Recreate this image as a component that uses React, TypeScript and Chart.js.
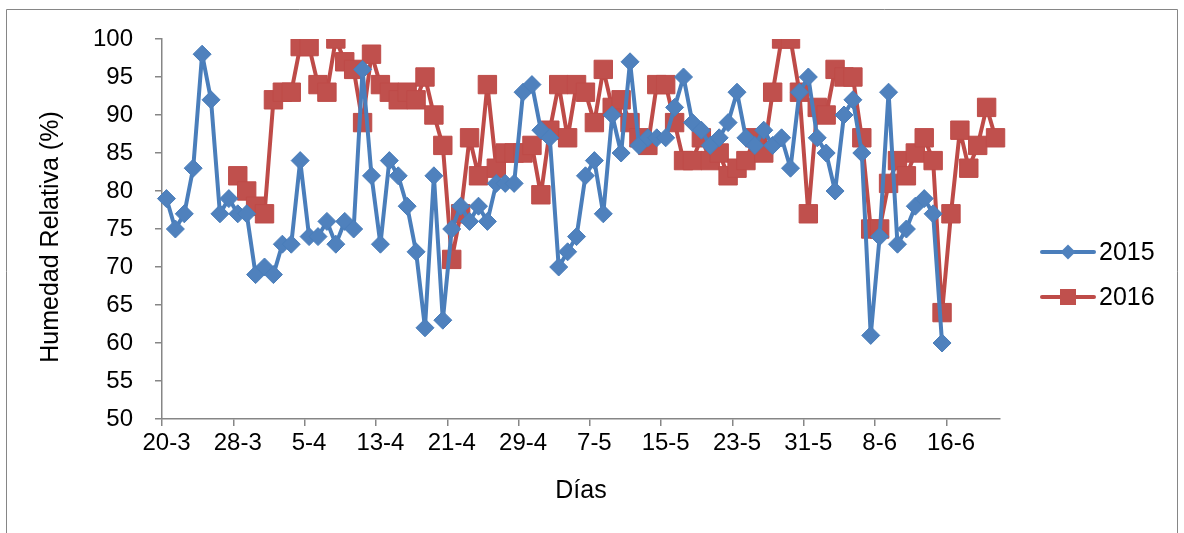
import React, { useEffect, useRef } from 'react';
import { Chart, registerables } from 'chart.js';

Chart.register(...registerables);

// Daily categories from 20-3 to 21-6 (94 days)
const START_DAY = 20;
const START_MONTH = 3;
const DAY_COUNT = 94;
const days: string[] = Array.from({ length: DAY_COUNT }, (_, i) => {
  const d = new Date(2016, START_MONTH - 1, START_DAY + i);
  return `${d.getDate()}-${d.getMonth() + 1}`;
});

// Show a tick label every 8 days
const TICK_EVERY = 8;

// Relative humidity (%), 2015: 20-3 .. 15-6
const humidity2015: number[] = [
  79, 75, 77, 83, 98, 92, 77, 79, 77, 77,
  69, 70, 69, 73, 73, 84, 74, 74, 76, 73,
  76, 75, 96, 82, 73, 84, 82, 78, 72, 62,
  82, 63, 75, 78, 76, 78, 76, 81, 81, 81,
  93, 94, 88, 87, 70, 72, 74, 82, 84, 77,
  90, 85, 97, 86, 87, 87, 87, 91, 95, 89,
  88, 86, 87, 89, 93, 87, 86, 88, 86, 87,
  83, 93, 95, 87, 85, 80, 90, 92, 85, 61,
  74, 93, 73, 75, 78, 79, 77, 60,
];

// Relative humidity (%), 2016: 28-3 .. 21-6
const offset2016 = 8;
const humidity2016: number[] = [
  82, 80, 78, 77, 92, 93, 93, 99, 99, 94,
  93, 100, 97, 96, 89, 98, 94, 93, 92, 93,
  92, 95, 90, 86, 71, 77, 87, 82, 94, 83,
  85, 85, 85, 86, 79.5, 88, 94, 87, 94, 93,
  89, 96, 91, 92, 89, 87, 86, 94, 94, 89,
  84, 84, 87, 84, 85, 82, 83, 84, 87, 85,
  93, 100, 100, 93, 77, 91, 90, 96, 95, 95,
  87, 75, 75, 81, 84, 82, 85, 87, 84, 64,
  77, 88, 83, 86, 91, 87,
];

const seriesNames = ['2015', '2016'];
const yTicks = { min: 50, max: 100, step: 5 };
const xTitle = 'Días';
const yTitle = 'Humedad Relativa (%)';

const BLUE = '#4A7EBB';
const BLUE_FILL = '#4F81BD';
const RED = '#BE4B48';
const RED_FILL = '#C0504D';
const AXIS = '#868686';
const FONT = "'Liberation Sans', Arial, sans-serif";

function padSeries(values: number[], offset: number): (number | null)[] {
  const out: (number | null)[] = [];
  for (let i = 0; i < DAY_COUNT; i++) {
    const k = i - offset;
    out.push(k >= 0 && k < values.length ? values[k] : null);
  }
  return out;
}

const framePlugin = {
  id: 'frame',
  beforeDraw(chart: any) {
    const ctx = chart.ctx;
    ctx.save();
    ctx.fillStyle = '#ffffff';
    ctx.fillRect(0, 0, chart.width, chart.height);
    ctx.strokeStyle = AXIS;
    ctx.lineWidth = 1;
    ctx.beginPath();
    ctx.moveTo(6.5, 600);
    ctx.lineTo(6.5, 9.5);
    ctx.lineTo(1177.5, 9.5);
    ctx.lineTo(1177.5, 600);
    ctx.stroke();
    ctx.restore();
  },
};

const titlesPlugin = {
  id: 'axisTitles',
  afterDraw(chart: any) {
    const ctx = chart.ctx;
    const area = chart.chartArea;
    ctx.save();
    ctx.fillStyle = '#000';
    ctx.font = `25px ${FONT}`;
    ctx.textAlign = 'center';
    ctx.textBaseline = 'middle';
    ctx.fillText(xTitle, (area.left + area.right) / 2, 491);
    ctx.translate(51, (area.top + area.bottom) / 2 + 8);
    ctx.rotate(-Math.PI / 2);
    ctx.fillText(yTitle, 0, 0);
    ctx.restore();
  },
};

const legendPlugin = {
  id: 'sideLegend',
  afterDraw(chart: any) {
    const ctx = chart.ctx;
    ctx.save();
    chart.data.datasets.forEach((ds: any, k: number) => {
      const y = 252 + k * 45;
      ctx.strokeStyle = ds.borderColor;
      ctx.lineWidth = 4;
      ctx.lineCap = 'round';
      ctx.beginPath();
      ctx.moveTo(1042, y);
      ctx.lineTo(1094, y);
      ctx.stroke();
      ctx.fillStyle = ds.pointBackgroundColor;
      const cx = 1068;
      if (ds.pointStyle === 'rectRot') {
        const r = 7.5;
        ctx.beginPath();
        ctx.moveTo(cx, y - r);
        ctx.lineTo(cx + r, y);
        ctx.lineTo(cx, y + r);
        ctx.lineTo(cx - r, y);
        ctx.closePath();
        ctx.fill();
      } else {
        const s = 8;
        ctx.fillRect(cx - s, y - s, 2 * s, 2 * s);
      }
      ctx.fillStyle = '#000';
      ctx.font = `25px ${FONT}`;
      ctx.textAlign = 'left';
      ctx.textBaseline = 'middle';
      ctx.fillText(ds.label, 1099, y + 1);
    });
    ctx.restore();
  },
};

export default function App() {
  const canvasRef = useRef<HTMLCanvasElement | null>(null);

  useEffect(() => {
    const canvas = canvasRef.current;
    if (!canvas) return;
    const chart = new Chart(canvas, {
      type: 'line',
      data: {
        labels: days,
        datasets: [
          {
            label: seriesNames[0],
            data: padSeries(humidity2015, 0),
            borderColor: BLUE,
            backgroundColor: BLUE_FILL,
            pointBackgroundColor: BLUE_FILL,
            pointBorderColor: BLUE,
            pointBorderWidth: 1,
            pointStyle: 'rectRot',
            pointRadius: 9,
            borderWidth: 4,
            borderJoinStyle: 'round',
            borderCapStyle: 'round',
            tension: 0,
            spanGaps: false,
          },
          {
            label: seriesNames[1],
            data: padSeries(humidity2016, offset2016),
            borderColor: RED,
            backgroundColor: RED_FILL,
            pointBackgroundColor: RED_FILL,
            pointBorderColor: RED,
            pointBorderWidth: 1,
            pointStyle: 'rect',
            pointRadius: 13,
            borderWidth: 4,
            borderJoinStyle: 'round',
            borderCapStyle: 'round',
            tension: 0,
            spanGaps: false,
          },
        ],
      },
      options: {
        animation: false,
        responsive: false,
        maintainAspectRatio: false,
        events: [],
        layout: { padding: { left: 0, top: 39, right: 184, bottom: 0 } },
        plugins: {
          legend: { display: false },
          tooltip: { enabled: false },
        },
        scales: {
          x: {
            type: 'category',
            offset: true,
            grid: {
              offset: true,
              drawOnChartArea: false,
              drawTicks: true,
              tickLength: 7,
              lineWidth: 1.5,
              color: (ctx: any) => (ctx.index % TICK_EVERY === 0 ? AXIS : 'rgba(0,0,0,0)'),
            },
            border: { color: AXIS, width: 1.5 },
            ticks: {
              autoSkip: false,
              maxRotation: 0,
              minRotation: 0,
              padding: 3,
              color: '#000',
              font: { family: FONT, size: 24 },
              callback: (_v: any, i: number) => (i % TICK_EVERY === 0 ? days[i] : ''),
            },
            title: { display: false },
            afterFit: (s: any) => {
              s.height = 114;
            },
          },
          y: {
            min: yTicks.min,
            max: yTicks.max,
            grid: {
              drawOnChartArea: false,
              drawTicks: true,
              tickLength: 7,
              lineWidth: 1.5,
              color: AXIS,
            },
            border: { color: AXIS, width: 1.5 },
            ticks: {
              stepSize: yTicks.step,
              padding: 22,
              color: '#000',
              font: { family: FONT, size: 24 },
            },
            title: { display: false },
            afterFit: (s: any) => {
              s.width = 162;
            },
          },
        },
      },
      plugins: [framePlugin, titlesPlugin, legendPlugin],
    } as any);
    return () => chart.destroy();
  }, []);

  return (
    <div style={{ position: 'absolute', left: 0, top: 0, width: 1184, height: 533, background: '#fff' }}>
      <canvas ref={canvasRef} width={1184} height={533} style={{ display: 'block', width: 1184, height: 533 }} />
    </div>
  );
}
